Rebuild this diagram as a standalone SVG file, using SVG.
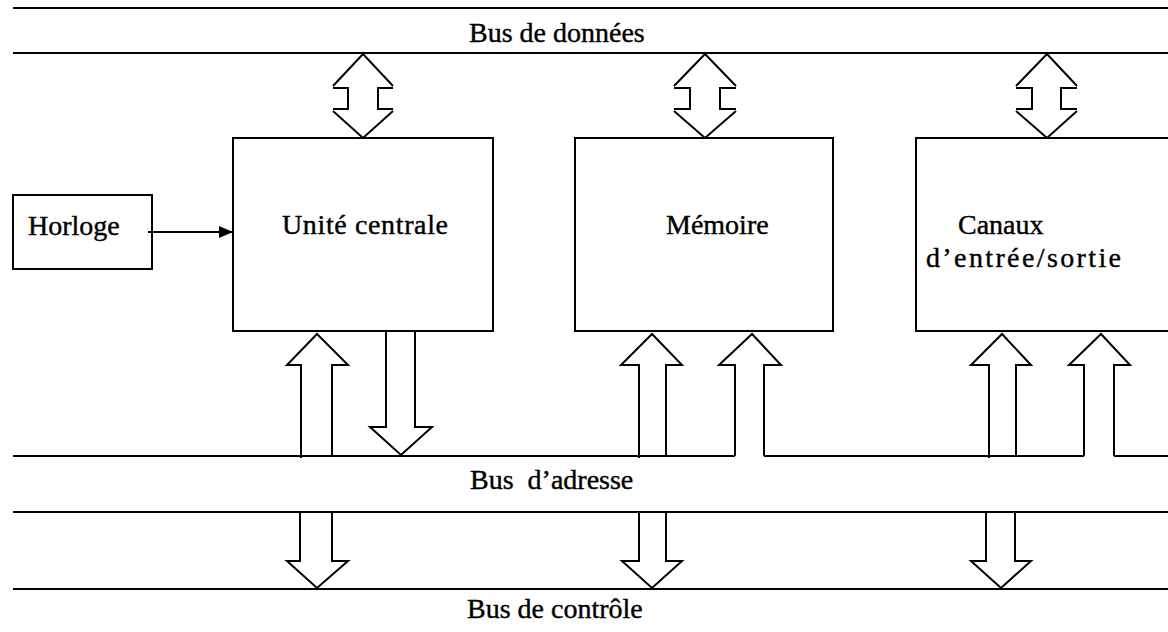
<svg xmlns="http://www.w3.org/2000/svg" width="1168" height="632" viewBox="0 0 1168 632">
  <style>
    .ln { fill: none; stroke: #000; stroke-width: 2; stroke-linejoin: miter; }
    .box { fill: #fff; stroke: #000; stroke-width: 2; }
    .lbl { font-family: "Liberation Serif", "Times New Roman", serif; font-size: 28px; fill: #000; stroke: #000; stroke-width: 0.4; }
  </style>
  <defs>
    <marker id="tri" markerWidth="14" markerHeight="12" refX="14" refY="6" orient="auto" markerUnits="userSpaceOnUse">
      <path d="M0,0 L14,6 L0,12 Z" fill="#000"/>
    </marker>
  </defs>
  <rect width="1168" height="632" fill="#fff"/>

  <!-- Buses -->
  <g id="bus-donnees">
    <path class="ln" d="M13,8 H1168 M13,53 H1168"/>
    <text class="lbl" x="469" y="42">Bus de données</text>
  </g>
  <g id="bus-adresse">
    <path class="ln" d="M13,456 H735 M764,456 H1084 M1114,456 H1168 M13,512 H1168"/>
    <text class="lbl" x="470" y="489" xml:space="preserve">Bus  d’adresse</text>
  </g>
  <g id="bus-controle">
    <path class="ln" d="M13,589 H1168"/>
    <text class="lbl" x="467" y="618">Bus de contrôle</text>
  </g>

  <!-- Blocks -->
  <g id="horloge">
    <rect class="box" x="13" y="195" width="139" height="74"/>
    <text class="lbl" x="28" y="235">Horloge</text>
  </g>
  <g id="unite-centrale">
    <rect class="box" x="233" y="138" width="260" height="193"/>
    <text class="lbl" x="282" y="234" textLength="166" lengthAdjust="spacing">Unité centrale</text>
  </g>
  <g id="memoire">
    <rect class="box" x="575" y="138" width="258" height="193"/>
    <text class="lbl" x="666" y="234">Mémoire</text>
  </g>
  <g id="canaux-es">
    <path class="box" d="M1170,138 H916 V331 H1170"/>
    <text class="lbl" x="958" y="234">Canaux</text>
    <text class="lbl" x="926" y="267" textLength="195" lengthAdjust="spacing">d’entrée/sortie</text>
  </g>

  <!-- Connectors -->
  <g id="connectors">
    <!-- clock signal -->
    <line class="ln" x1="148" y1="232" x2="233" y2="232" marker-end="url(#tri)"/>

    <!-- data bus double arrows -->
    <path class="ln" d="M333,86 L363,54 L393,86 M333,88 H348 V109 H333 M393,88 H378 V109 H393 M333,111 L363,138 L393,111"/>
    <path class="ln" d="M674,86 L705,54 L736,86 M674,88 H690 V109 H674 M736,88 H720 V109 H736 M674,111 L705,138 L736,111"/>
    <path class="ln" d="M1016,86 L1047,54 L1077,86 M1016,88 H1032 V109 H1016 M1077,88 H1061 V109 H1077 M1016,111 L1047,138 L1077,111"/>

    <!-- address bus arrows -->
    <path class="ln" d="M301,458 V365 H287 L317,334 L348,365 H332 V456"/>
    <path class="ln" d="M386,331 V427 H370 L401,455 L432,427 H415 V331"/>
    <path class="ln" d="M639,458 V365 H621 L652,334 L682,365 H666 V456"/>
    <path class="ln" d="M735,456 V365 H719 L752,334 L781,365 H764 V456"/>
    <path class="ln" d="M989,458 V365 H971 L1002,334 L1031,365 H1016 V456"/>
    <path class="ln" d="M1084,456 V365 H1069 L1101,334 L1130,365 H1114 V456"/>

    <!-- control bus arrows -->
    <path class="ln" d="M300,512 V561 H287 L317,588 L348,561 H332 V512"/>
    <path class="ln" d="M639,512 V561 H622 L652,588 L682,561 H666 V512"/>
    <path class="ln" d="M986,512 V561 H971 L1001,588 L1031,561 H1015 V512"/>
  </g>
</svg>
